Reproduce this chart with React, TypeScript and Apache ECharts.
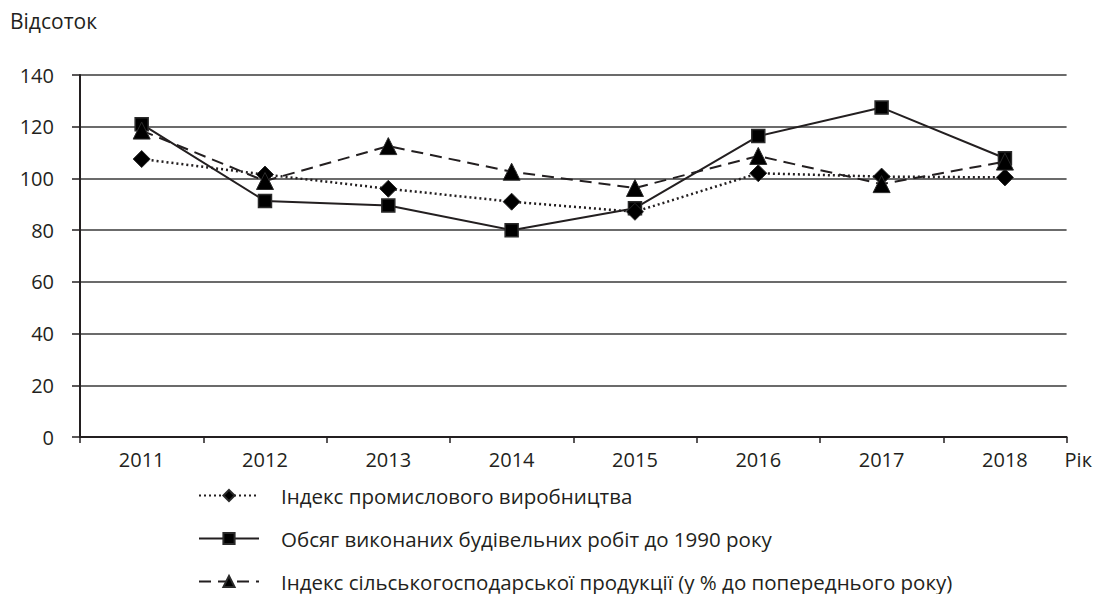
import React, { useEffect, useRef } from "react";
import * as echarts from "echarts";

const years = ["2011", "2012", "2013", "2014", "2015", "2016", "2017", "2018"];
const industrial = [107.5, 101.5, 96, 91, 87.1, 102, 100.7, 100.4];
const construction = [121, 91.3, 89.5, 80, 88.5, 116.4, 127.4, 107.8];
const agriculture = [118.5, 99, 112.5, 102.6, 96.3, 108.7, 97.8, 106.5];
const seriesNames = [
  "Індекс промислового виробництва",
  "Обсяг виконаних будівельних робіт до 1990 року",
  "Індекс сільськогосподарської продукції (у % до попереднього року)",
];

const FONT = "'Open Sans', 'Noto Sans', sans-serif";
const INK = "#231f20";

export default function App() {
  const ref = useRef<HTMLDivElement>(null);
  useEffect(() => {
    document.body.style.margin = "0";
    const chart = echarts.init(ref.current!, null, { renderer: "svg" });
    chart.setOption({
      animation: false,
      backgroundColor: "#ffffff",
      textStyle: { fontFamily: FONT, color: INK },
      grid: { left: 80, right: 28, top: 75, bottom: 157 },
      graphic: [
        {
          type: "text",
          left: 10,
          top: 10,
          style: { text: "Відсоток", fontSize: 21, fontFamily: FONT, fill: INK },
        },
      ],
      legend: {
        orient: "vertical",
        left: 198,
        top: 485,
        height: 108,
        padding: 0,
        itemWidth: 60,
        itemHeight: 14,
        itemGap: 22,
        textStyle: { fontSize: 20.5, fontFamily: FONT, color: INK, padding: [0, 0, 0, 17], lineHeight: 20 },
        data: seriesNames,
      },
      xAxis: {
        type: "category",
        data: years,
        boundaryGap: true,
        name: "Рік",
        nameLocation: "end",
        nameGap: -2,
        nameTextStyle: { fontSize: 20, fontFamily: FONT, color: INK, align: "left", verticalAlign: "top", padding: [12, 0, 0, 0] },
        axisLine: { lineStyle: { color: INK, width: 2 } },
        axisTick: { show: true, length: 6, alignWithLabel: false, lineStyle: { color: INK, width: 1.5 } },
        axisLabel: { fontSize: 20, fontFamily: FONT, color: INK, margin: 12 },
        splitLine: { show: false },
      },
      yAxis: {
        type: "value",
        min: 0,
        max: 140,
        interval: 20,
        axisLine: { show: true, lineStyle: { color: INK, width: 2 } },
        axisTick: { show: true, length: 8, lineStyle: { color: INK, width: 1.5 } },
        axisLabel: { fontSize: 20, fontFamily: FONT, color: INK, margin: 26 },
        splitLine: { show: true, lineStyle: { color: "#3a3a3a", width: 1.5 } },
      },
      series: [
        {
          name: seriesNames[0],
          type: "line",
          data: industrial,
          symbol: "diamond",
          symbolSize: 17,
          itemStyle: { color: "#000000", borderColor: "#2a2a2a", borderWidth: 1 },
          lineStyle: { color: INK, width: 2.5, type: [2, 3] },
          z: 3,
        },
        {
          name: seriesNames[1],
          type: "line",
          data: construction,
          symbol: "rect",
          symbolSize: 13,
          itemStyle: { color: "#000000", borderColor: "#2a2a2a", borderWidth: 1.5 },
          lineStyle: { color: INK, width: 2 },
          z: 2,
        },
        {
          name: seriesNames[2],
          type: "line",
          data: agriculture,
          symbol: "triangle",
          symbolSize: 17,
          itemStyle: { color: "#000000", borderColor: "#2a2a2a", borderWidth: 1 },
          lineStyle: { color: INK, width: 2, type: [12, 7] },
          z: 4,
        },
      ],
    });
    return () => chart.dispose();
  }, []);
  return <div ref={ref} style={{ width: 1095, height: 594 }} />;
}
